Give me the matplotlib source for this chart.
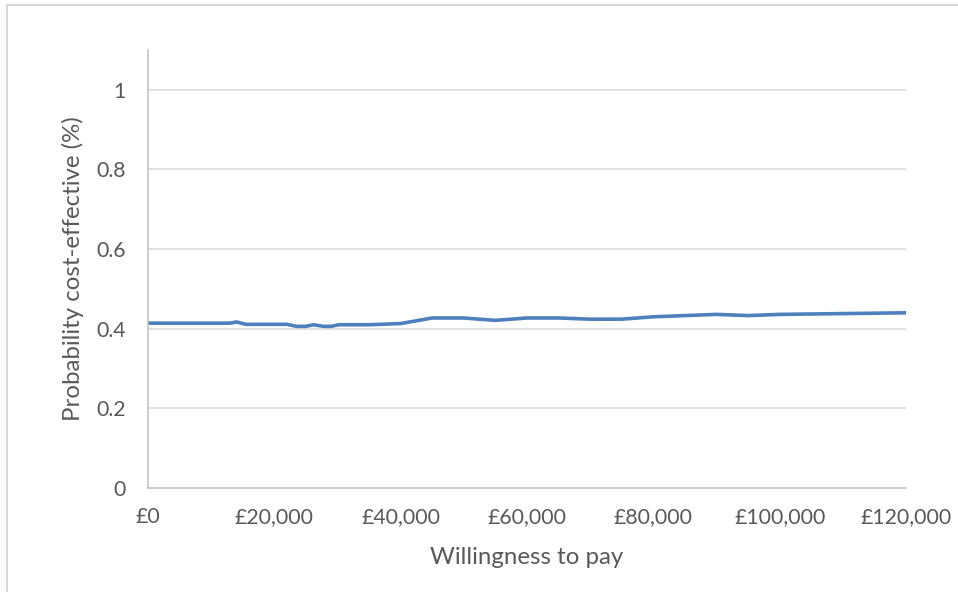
import matplotlib
matplotlib.use("Agg")
import matplotlib.pyplot as plt
from matplotlib.patches import Rectangle
from matplotlib.ticker import FuncFormatter

# Data
wtp = [0, 5000, 10000, 13000, 14000, 15500, 20000, 22000, 23500, 25000,
       26200, 27800, 29000, 30200, 35000, 40000, 45000, 50000, 55000,
       60000, 65000, 70000, 75000, 80000, 85000, 90000, 95000, 100000,
       105000, 110000, 115000, 120000]
prob_ce = [0.414, 0.414, 0.414, 0.414, 0.417, 0.411, 0.411, 0.411, 0.406, 0.406,
           0.410, 0.406, 0.406, 0.410, 0.410, 0.413, 0.427, 0.427, 0.421,
           0.427, 0.427, 0.424, 0.424, 0.430, 0.433, 0.436, 0.433, 0.436,
           0.437, 0.438, 0.439, 0.440]
x_ticks = [0, 20000, 40000, 60000, 80000, 100000, 120000]
y_ticks = [0, 0.2, 0.4, 0.6, 0.8, 1.0]
x_label = "Willingness to pay"
y_label = "Probability cost-effective (%)"

plt.rcParams['font.family'] = ['Lato', 'DejaVu Sans']
text_color = '#595959'

fig = plt.figure(figsize=(9.58, 5.92), dpi=100)
fig.patches.append(Rectangle((7/958, -0.5), 2, 1.5 - 5/592, transform=fig.transFigure,
                             fill=False, edgecolor='#d9d9d9', linewidth=1.5))

ax = fig.add_axes([148/958, 1 - 488/592, (906 - 148)/958, (488 - 50)/592])
ax.plot(wtp, prob_ce, color='#4e80bd', linewidth=2.6, solid_capstyle='butt')

ax.set_xlim(0, 120000)
ax.set_ylim(0, 1.1)
ax.set_xticks(x_ticks)
ax.set_yticks(y_ticks)
ax.xaxis.set_major_formatter(FuncFormatter(lambda v, p: "£{:,.0f}".format(v)))
ax.yaxis.set_major_formatter(FuncFormatter(lambda v, p: "{:g}".format(round(v, 1))))

for yv in y_ticks[1:]:
    ax.axhline(yv, color='#d9d9d9', linewidth=1.1, zorder=0)

for s in ['top', 'right']:
    ax.spines[s].set_visible(False)
for s in ['left', 'bottom']:
    ax.spines[s].set_color('#bfbfbf')
    ax.spines[s].set_linewidth(1.1)

ax.tick_params(axis='both', length=0, labelsize=15.3, colors=text_color)
ax.tick_params(axis='y', pad=16)
ax.tick_params(axis='x', pad=14)

ax.set_xlabel(x_label, fontsize=17.3, color=text_color, va='center', ha='center')
ax.xaxis.set_label_coords(0.5, (488 - 558) / 438)
ax.set_ylabel(y_label, fontsize=17.3, color=text_color, va='center', ha='center')
ax.yaxis.set_label_coords((73 - 148) / 758, (488 - 269) / 438)

fig.savefig("out.png", dpi=100)
